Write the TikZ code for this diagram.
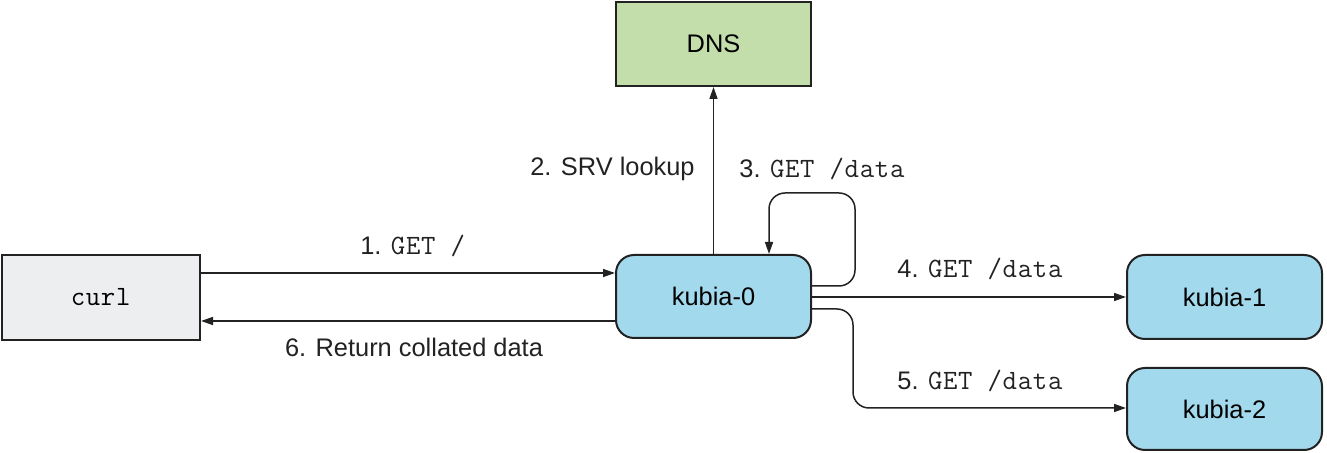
\documentclass[tikz,border=0pt]{standalone}
\usepackage{fontspec}
\setmainfont{Liberation Sans}
\setmonofont{Latin Modern Mono}[Scale=1.1,LetterSpace=2.5]
\usetikzlibrary{arrows.meta}
\definecolor{curlfill}{HTML}{EDEEF0}
\definecolor{dnsfill}{HTML}{C3DDAB}
\definecolor{podfill}{HTML}{A3D9EC}
\definecolor{ink}{HTML}{222222}
\tikzset{
  px/.style={x=0.5pt,y=-0.5pt},
  box/.style={draw=ink,line width=1pt,inner sep=0pt,minimum width=97.5pt,minimum height=42pt,font=\fontsize{12.7}{15}\selectfont},
  pod/.style={box,fill=podfill,rounded corners=9pt},
  arr/.style={draw=ink,line width=0.75pt,-{Triangle[length=6pt,width=4pt]}},
  lbl/.style={inner sep=0pt,font=\fontsize{12.7}{15}\selectfont,text=ink},
}
\begin{document}
\begin{tikzpicture}[px]
\useasboundingbox (0,0) rectangle (1327,453);
\node[box,fill=curlfill,minimum width=99pt,minimum height=42.5pt] (curl) at (101,297.5) {\texttt{curl}};
\node[box,fill=dnsfill] (dns) at (713.5,44) {DNS};
\node[pod,minimum height=41.5pt] (k0) at (713.5,296.5) {kubia-0};
\node[pod] (k1) at (1224.5,297) {kubia-1};
\node[pod,minimum height=41pt] (k2) at (1224.5,409) {kubia-2};
% connectors
\draw[arr] (curl.east |- 0,273) -- (k0.west |- 0,273);
\draw[arr] (k0.west |- 0,321) -- (curl.east |- 0,321);
\draw[arr] (k0.north) -- (dns.south);
\draw[arr,rounded corners=8pt] (k0.east |- 0,286) -- (855,286) -- (855,193) -- (769,193) -- (769,0 |- k0.north);
\draw[arr] (k0.east |- 0,297) -- (k1.west |- 0,297);
\draw[arr,rounded corners=8pt] (k0.east |- 0,309) -- (853,309) -- (853,408) -- (k2.west |- 0,408);
% labels
\node[lbl,anchor=base] (l1) at (413,255) {1. \texttt{GET /}};
\node[lbl,anchor=base east] (l2) at (695,176) {2. SRV lookup};
\node[lbl,anchor=base west] (l3) at (739,178) {3. \texttt{GET /data}};
\node[lbl,anchor=base west] (l4) at (897,278) {4. \texttt{GET /data}};
\node[lbl,anchor=base west] (l5) at (897,390) {5. \texttt{GET /data}};
\node[lbl,anchor=base] (l6) at (414,357) {6. Return collated data};
\end{tikzpicture}
\end{document}
